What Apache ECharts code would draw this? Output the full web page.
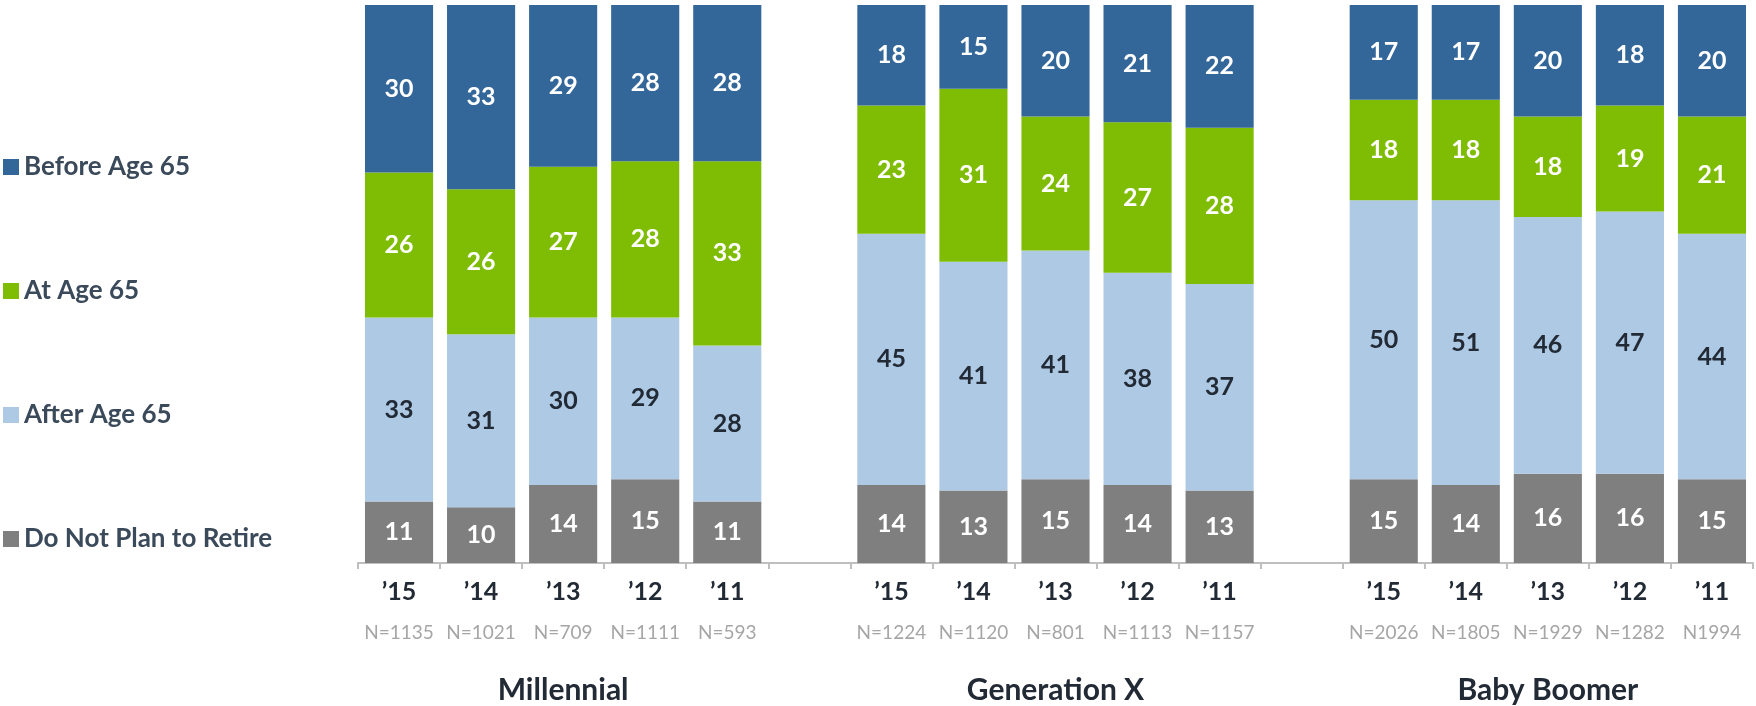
<!DOCTYPE html>
<html>
<head>
<meta charset="utf-8">
<script src="https://cdn.jsdelivr.net/npm/echarts@6/dist/echarts.min.js"></script>
<style>
html,body{margin:0;padding:0;background:#fff;}
#chart{width:1756px;height:706px;}
</style>
</head>
<body>
<div id="chart"></div>
<script>
const years = ['\u201915', '\u201914', '\u201913', '\u201912', '\u201911'];
const groups = ['Millennial', 'Generation X', 'Baby Boomer'];
const nLabels = [
  ['N=1135', 'N=1021', 'N=709', 'N=1111', 'N=593'],
  ['N=1224', 'N=1120', 'N=801', 'N=1113', 'N=1157'],
  ['N=2026', 'N=1805', 'N=1929', 'N=1282', 'N1994']
];
const seriesNames = ['Before Age 65', 'At Age 65', 'After Age 65', 'Do Not Plan to Retire'];
const beforeAge65 = [[30, 33, 29, 28, 28], [18, 15, 20, 21, 22], [17, 17, 20, 18, 20]];
const atAge65 = [[26, 26, 27, 28, 33], [23, 31, 24, 27, 28], [18, 18, 18, 19, 21]];
const afterAge65 = [[33, 31, 30, 29, 28], [45, 41, 41, 38, 37], [50, 51, 46, 47, 44]];
const doNotRetire = [[11, 10, 14, 15, 11], [14, 13, 15, 14, 13], [15, 14, 16, 16, 15]];

const colors = {
  before: '#336699',
  at: '#7FBC04',
  after: '#ADC9E4',
  notPlan: '#7F7F7F'
};

// Build flat categories with one empty slot between groups
const categories = [];
groups.forEach((g, gi) => {
  years.forEach((y, yi) => {
    let lbl = '{y|' + y + '}\n{n|' + nLabels[gi][yi] + '}';
    if (yi === 2) lbl += '\n{g|' + g + '}';
    categories.push(lbl);
  });
  if (gi < groups.length - 1) categories.push('gap' + gi);
});
function flatten(arr) {
  const out = [];
  arr.forEach((grp, gi) => {
    grp.forEach(v => out.push(v));
    if (gi < arr.length - 1) out.push('-');
  });
  return out;
}

const FONT = 'Lato';
function mkSeries(name, data, color, labelColor) {
  return {
    name: name,
    type: 'bar',
    stack: 'total',
    barCategoryGap: '17%',
    data: flatten(data),
    itemStyle: { color: color },
    label: {
      show: true,
      position: 'inside',
      color: labelColor,
      fontFamily: FONT,
      fontWeight: 'bold',
      fontSize: 25
    },
    emphasis: { disabled: true }
  };
}

const chart = echarts.init(document.getElementById('chart'), null, { renderer: 'canvas' });
chart.setOption({
  animation: false,
  backgroundColor: '#ffffff',
  textStyle: { fontFamily: FONT },
  legend: {
    data: seriesNames,
    orient: 'vertical',
    left: 3,
    top: 152,
    padding: 0,
    icon: 'rect',
    itemWidth: 16,
    itemHeight: 16,
    itemGap: 94,
    selectedMode: false,
    textStyle: {
      fontFamily: FONT,
      fontWeight: 'bold',
      fontSize: 26,
      lineHeight: 30,
      color: '#3B4A5A'
    }
  },
  grid: { left: 358, right: 3, top: 5, bottom: 143, containLabel: false },
  xAxis: {
    type: 'category',
    data: categories,
    axisLine: { lineStyle: { color: '#BFBFBF', width: 2 } },
    axisTick: { show: true, length: 6, lineStyle: { color: '#BFBFBF', width: 2 } },
    axisLabel: {
      interval: 0,
      margin: 12,
      hideOverlap: false,
      formatter: function (v) { return v.indexOf('gap') === 0 ? '' : v; },
      rich: {
        y: { fontFamily: FONT, fontWeight: 'bold', fontSize: 25, color: '#222A35', lineHeight: 34 },
        n: { fontFamily: FONT, fontSize: 19, color: '#A6A6A6', lineHeight: 48 },
        g: { fontFamily: FONT, fontWeight: 'bold', fontSize: 30, color: '#222A35', lineHeight: 66 }
      }
    }
  },
  yAxis: {
    type: 'value',
    min: 0,
    max: 100,
    show: false,
    splitLine: { show: false }
  },
  series: [
    mkSeries('Do Not Plan to Retire', doNotRetire, colors.notPlan, '#FFFFFF'),
    mkSeries('After Age 65', afterAge65, colors.after, '#222A35'),
    mkSeries('At Age 65', atAge65, colors.at, '#FFFFFF'),
    mkSeries('Before Age 65', beforeAge65, colors.before, '#FFFFFF')
  ]
});
</script>
</body>
</html>
